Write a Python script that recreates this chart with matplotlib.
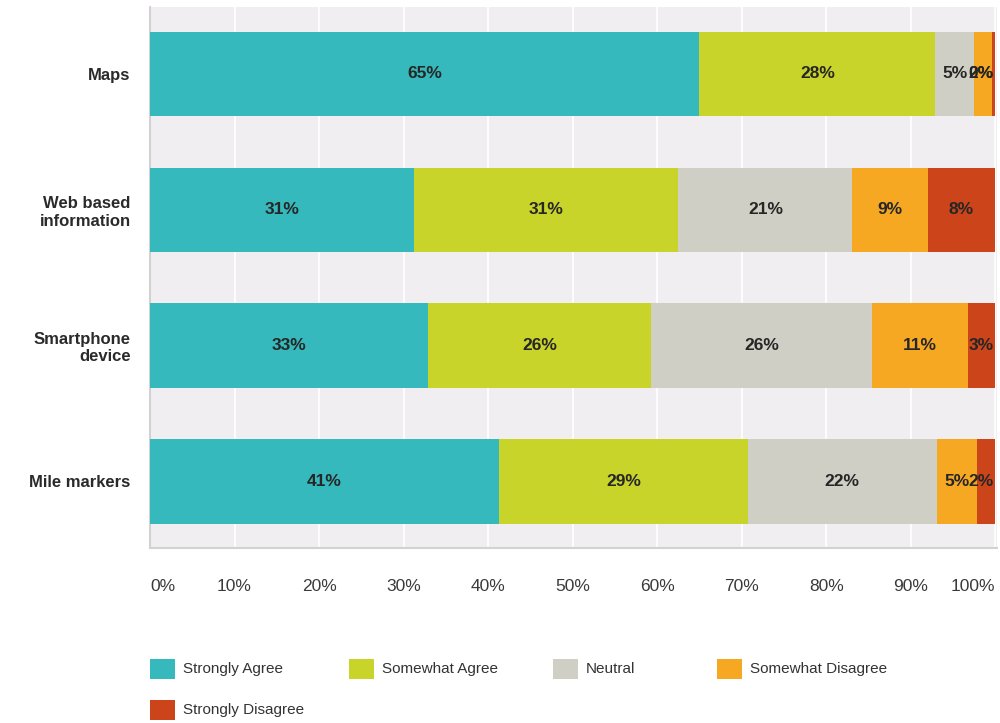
import numpy as np
import matplotlib.pyplot as plt
from matplotlib.patches import Rectangle

plt.rcParams['font.family'] = ['Liberation Sans', 'DejaVu Sans']

categories = ['Maps', 'Web based\ninformation', 'Smartphone\ndevice', 'Mile markers']
responses = ['Strongly Agree', 'Somewhat Agree', 'Neutral', 'Somewhat Disagree', 'Strongly Disagree']
colors = ['#35b9bd', '#c9d42b', '#cfcfc5', '#f7a823', '#cc4419']

# percentages per response, one value per category (top to bottom)
strongly_agree = [65.0, 31.2, 32.9, 41.3]
somewhat_agree = [27.9, 31.3, 26.4, 29.4]
neutral = [4.6, 20.6, 26.1, 22.4]
somewhat_disagree = [2.1, 8.9, 11.4, 4.7]
strongly_disagree = [0.4, 8.0, 3.2, 2.2]

series = [strongly_agree, somewhat_agree, neutral, somewhat_disagree, strongly_disagree]
x_ticks = [0, 10, 20, 30, 40, 50, 60, 70, 80, 90, 100]

fig = plt.figure(figsize=(10, 7.23), dpi=100)
ax = fig.add_axes([0.15, 0.242, 0.847, 0.748])
ax.set_facecolor('#f0eef1')

y = np.arange(len(categories))
left = np.zeros(len(categories))
for vals, col in zip(series, colors):
    vals = np.array(vals)
    ax.barh(y, vals, left=left, height=0.62, color=col, zorder=3)
    for yi, (l, v) in enumerate(zip(left, vals)):
        # keep labels of tiny end segments inside the plot
        cx = min(l + v / 2, 98.3)
        ax.text(cx, yi, '%d%%' % round(v), ha='center', va='center',
                fontsize=12.5, fontweight='bold', color='#262626', zorder=4)
    left = left + vals

ax.set_xlim(0, 100.2)
ax.set_ylim(3.49, -0.49)
ax.set_xticks(x_ticks)
ax.set_xticklabels(['%d%%' % t for t in x_ticks], fontsize=12.5, color='#3a3a3a')
xl = ax.get_xticklabels()
xl[0].set_ha('left')
xl[-1].set_ha('right')
ax.set_yticks(y)
ax.set_yticklabels(categories, fontsize=12, fontweight='bold', color='#2a2a2a',
                   linespacing=1.2)
ax.tick_params(axis='x', length=0, pad=22)
ax.tick_params(axis='y', length=0, pad=14)

# grid
ax.xaxis.grid(color='white', linewidth=1.2, zorder=1)
ax.set_axisbelow(True)

# spines
for s in ['top', 'right']:
    ax.spines[s].set_visible(False)
for s in ['left', 'bottom']:
    ax.spines[s].set_color('#d2d2d2')
    ax.spines[s].set_linewidth(1.5)

# legend, laid out as in the original
legend_pos = [(150, 669), (349, 669), (553, 669), (717, 669), (150, 710)]
for (px, py), name, col in zip(legend_pos, responses, colors):
    fx = px / 1000.0
    fy = 1 - py / 723.0
    fig.add_artist(Rectangle((fx, fy - 0.014), 0.025, 0.028, transform=fig.transFigure,
                             facecolor=col, edgecolor='none'))
    fig.text(fx + 0.033, fy, name, fontsize=11, color='#333333', va='center', ha='left')

fig.savefig('out.png', dpi=100, facecolor='white')
